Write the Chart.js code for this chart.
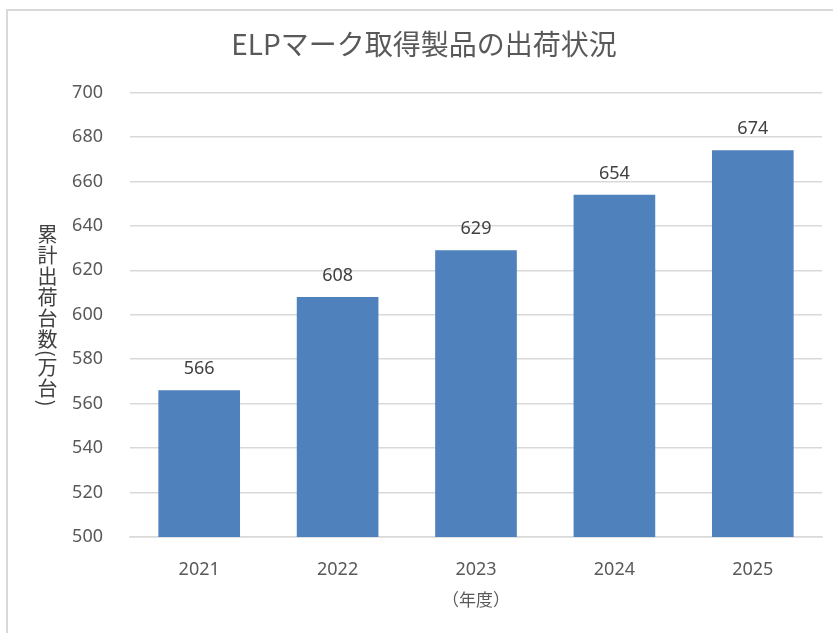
<!DOCTYPE html>
<html>
<head>
<meta charset="utf-8">
<title>ELPマーク取得製品の出荷状況</title>
<script src="https://cdn.jsdelivr.net/npm/chart.js@4"></script>
<style>
  html, body { margin: 0; padding: 0; background: #fff; overflow: hidden; }
  #wrap { position: relative; width: 833px; height: 633px; }
  #frame { position: absolute; left: 6px; top: 9px; width: 900px; height: 700px; border: 2px solid #d9d9d9; box-sizing: border-box; }
  #ytitle {
    position: absolute; left: 37px; top: 224px;
    writing-mode: vertical-rl;
    font-family: "Noto Sans CJK JP", sans-serif; font-size: 20px; line-height: 1;
    color: #404040; letter-spacing: 1px;
  }
  canvas { position: absolute; left: 0; top: 0; }
</style>
</head>
<body>
<div id="wrap">
  <div id="frame"></div>
  <canvas id="chart" width="833" height="633"></canvas>
  <div id="ytitle">累計出荷台数(万台)</div>
</div>
<script>
  // chart data
  const years = ['2021', '2022', '2023', '2024', '2025'];
  const shipments = [566, 608, 629, 654, 674];
  const yMin = 500, yMax = 700, yStep = 20;

  const textColor = '#595959';
  const barColor = '#4f81bd';

  // value labels above each bar
  const barLabels = {
    id: 'barLabels',
    afterDatasetsDraw(chart) {
      const ctx = chart.ctx;
      const meta = chart.getDatasetMeta(0);
      ctx.save();
      ctx.font = '18px "Noto Sans", sans-serif';
      ctx.fillStyle = '#404040';
      ctx.textAlign = 'center';
      ctx.textBaseline = 'middle';
      meta.data.forEach((bar, i) => {
        ctx.fillText(String(shipments[i]), bar.x, bar.y - 21);
      });
      ctx.restore();
    }
  };

  new Chart(document.getElementById('chart'), {
    type: 'bar',
    data: {
      labels: years,
      datasets: [{
        data: shipments,
        backgroundColor: barColor,
        categoryPercentage: 1,
        barPercentage: 0.59
      }]
    },
    options: {
      responsive: false,
      animation: false,
      layout: { padding: { left: 26, right: 11, top: 0, bottom: 0 } },
      plugins: {
        legend: { display: false },
        tooltip: { enabled: false },
        title: {
          display: true,
          text: 'ELPマーク取得製品の出荷状況',
          color: textColor,
          font: { family: '"Noto Sans CJK JP", sans-serif', size: 28, weight: 'normal' },
          padding: { top: 28, bottom: 31 }
        }
      },
      scales: {
        x: {
          afterFit(scale) { scale.height = 96; },
          grid: { display: false },
          border: { color: '#d9d9d9', width: 1.5 },
          ticks: {
            color: textColor,
            font: { family: '"Noto Sans", sans-serif', size: 18 },
            padding: 14
          },
          title: {
            display: true,
            text: '（年度）',
            color: textColor,
            font: { family: '"Noto Sans CJK JP", sans-serif', size: 17 },
            padding: { top: 0, bottom: 23 }
          }
        },
        y: {
          min: yMin,
          max: yMax,
          afterFit(scale) { scale.width = 104; },
          grid: { color: '#d9d9d9', lineWidth: 1.5, drawTicks: false },
          border: { display: false },
          ticks: {
            stepSize: yStep,
            color: textColor,
            font: { family: '"Noto Sans", sans-serif', size: 18 },
            padding: 27
          }
        }
      }
    },
    plugins: [barLabels]
  });
</script>
</body>
</html>
